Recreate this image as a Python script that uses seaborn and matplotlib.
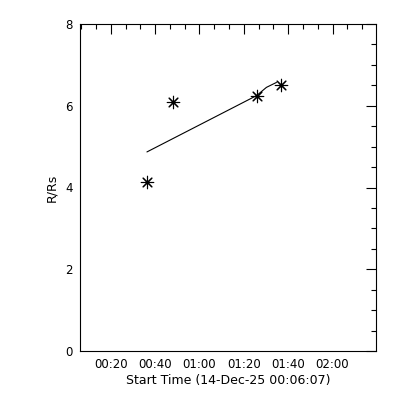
import numpy as np
import pandas as pd
import seaborn as sns
import matplotlib
matplotlib.use('Agg')
import matplotlib.pyplot as plt
from matplotlib.ticker import MultipleLocator, FixedLocator

# minutes after 00:00 on 14-Dec-25
t_start = 6 + 7 / 60.0
t_end = 139.6
times = [36.3, 48.1, 85.8, 96.8]
heights = [4.14, 6.08, 6.25, 6.50]

fit_times = [36.3, 85.8, 90.2, 94.7]
fit_heights = [4.87, 6.25, 6.45, 6.57]

tick_labels = ['00:20', '00:40', '01:00', '01:20', '01:40', '02:00']
tick_minutes = [int(s[:2]) * 60 + int(s[3:]) for s in tick_labels]

pts = pd.DataFrame({'t': times, 'r': heights})
fit = pd.DataFrame({'t': fit_times, 'r': fit_heights})

sns.set_style('white')
plt.rcParams['font.family'] = ['DejaVu Sans']

fig = plt.figure(figsize=(4, 4), dpi=100)
ax = fig.add_axes([0.2, 0.1225, 0.74, 0.8175])

sns.lineplot(data=fit, x='t', y='r', color='black', linewidth=0.8, ax=ax, sort=False)
sns.scatterplot(data=pts, x='t', y='r', marker=(8, 2, 0), s=80, color='black',
                linewidth=0.8, edgecolor='black', ax=ax)

ax.set_xlim(t_start, t_end)
ax.set_ylim(0, 8)
ax.xaxis.set_major_locator(FixedLocator(tick_minutes))
ax.set_xticklabels(tick_labels)
ax.xaxis.set_minor_locator(MultipleLocator(20 / 3.0))
ax.yaxis.set_major_locator(MultipleLocator(2))
ax.yaxis.set_minor_locator(MultipleLocator(0.5))
ax.tick_params(which='major', direction='in', length=7, width=0.8, top=True, right=True,
               labelsize=8.5, pad=5, colors='black')
ax.tick_params(which='minor', direction='in', length=3.5, width=0.8, top=True, right=True,
               colors='black')
for s in ax.spines.values():
    s.set_linewidth(0.8)
    s.set_color('black')

ax.set_xlabel('Start Time (14-Dec-25 00:06:07)', fontsize=9, labelpad=2, color='black')
ax.set_ylabel('R/Rs', fontsize=9, labelpad=5, color='black')

fig.savefig('out.png', dpi=100)
